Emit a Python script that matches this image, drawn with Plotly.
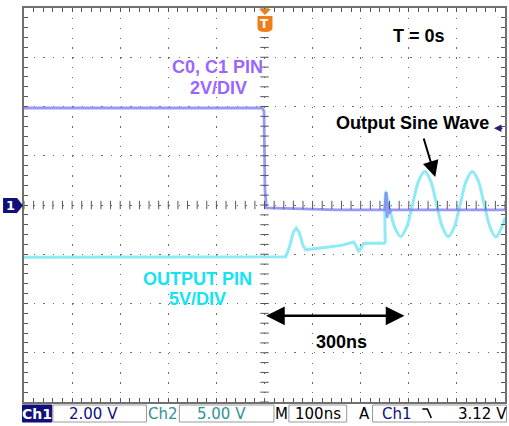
import plotly.graph_objects as go

# ---------------- data (time in ns, vertical in divisions) ----------------
ch1_t = [-500, -5, -1, 1, 4, 30, 80, 150, 250, 253, 255, 257, 259, 262, 300, 400, 500]
ch1_v = [1.97, 1.97, 1.9, 0.3, -0.06, -0.07, -0.08, -0.1, -0.1, 0.26, -0.26, 0.05, -0.18, -0.1, -0.1, -0.1, -0.1]

ch2_pre_t = [-500, 40, 44, 52, 60, 66, 72, 80, 86, 120, 160, 185, 190, 196, 201, 206, 240, 251]
ch2_pre_v = [-1.06, -1.06, -1.05, -0.85, -0.55, -0.47, -0.55, -0.82, -0.91, -0.87, -0.82, -0.75, -0.82, -0.95, -0.85, -0.78, -0.77, -0.78]

ch2_sine_t = [251, 252, 258, 270.6, 283, 295.4, 308, 320.6, 333, 345.4, 357.5, 370, 382,
              394.4, 407, 419.5, 432, 444.4, 456.5, 469, 481, 493.4, 500]
ch2_sine_v = [-0.78, 0.27, 0.03, -0.45, -0.64, -0.45, 0.02, 0.49, 0.68, 0.49, 0.02, -0.45, -0.64,
              -0.45, 0.02, 0.49, 0.68, 0.49, 0.02, -0.45, -0.65, -0.45, -0.25]

status_labels = ["Ch1", "2.00 V", "Ch2", "5.00 V", "M", "100ns", "A", "Ch1", "3.12 V"]

# ---------------- geometry helpers ----------------
W, H = 509, 426
L, R, T, B = 24, 2, 8, 24
PW, PH = W - L - R, H - T - B


def px(x):
    return (x - L) / PW


def py(y):
    return (H - B - y) / PH


CH1_COL = "rgba(128,128,245,0.8)"
CH2_COL = "rgba(135,234,244,0.95)"
PURPLE_TXT = "#9966ff"
CYAN_TXT = "#14e3f5"
NAVY = "#10107a"
TEAL = "#2f9396"

fig = go.Figure()

fig.add_trace(go.Scatter(x=ch2_pre_t, y=ch2_pre_v, mode="lines",
                         line=dict(color=CH2_COL, width=3), hoverinfo="skip"))
fig.add_trace(go.Scatter(x=ch2_sine_t, y=ch2_sine_v, mode="lines",
                         line=dict(color=CH2_COL, width=3, shape="spline", smoothing=1.0),
                         hoverinfo="skip"))
fig.add_trace(go.Scatter(x=ch1_t, y=ch1_v, mode="lines",
                         line=dict(color=CH1_COL, width=2.8), hoverinfo="skip"))

# centre-cross minor ticks
cx = [i * 20 for i in range(-25, 26)]
cy = [i * 0.2 for i in range(-20, 21)]
fig.add_trace(go.Scatter(x=cx, y=[0] * len(cx), mode="markers",
                         marker=dict(symbol="line-ns", size=6, line=dict(color="#555", width=1)),
                         hoverinfo="skip"))
fig.add_trace(go.Scatter(x=[0] * len(cy), y=cy, mode="markers",
                         marker=dict(symbol="line-ew", size=6, line=dict(color="#555", width=1)),
                         hoverinfo="skip"))

axis_common = dict(showticklabels=False, zeroline=False, showgrid=True,
                   gridcolor="#6a6a6a", gridwidth=1.3,
                   ticks="inside", ticklen=4, tickcolor="#555", tickwidth=1,
                   showline=True, linecolor="#707070", linewidth=2, mirror="allticks",
                   fixedrange=True)
fig.update_xaxes(range=[-500, 500], dtick=100, tick0=0,
                 griddash="1.3px,8.55px",
                 minor=dict(dtick=20, ticks="inside", ticklen=4, tickcolor="#555", showgrid=False),
                 **axis_common)
fig.update_yaxes(range=[-4, 4], dtick=1, tick0=0,
                 griddash="1.3px,8.36px",
                 minor=dict(dtick=0.2, ticks="inside", ticklen=4, tickcolor="#555", showgrid=False),
                 **axis_common)

shapes = []
# channel-1 ground marker
shapes.append(dict(type="path", xref="paper", yref="paper",
                   path=f"M {px(3)},{py(198)} L {px(17)},{py(198)} L {px(23)},{py(205.5)} "
                        f"L {px(17)},{py(213)} L {px(3)},{py(213)} Z",
                   fillcolor=NAVY, line=dict(width=0)))
# trigger position marker
shapes.append(dict(type="path", xref="paper", yref="paper",
                   path=f"M {px(260)},{py(9)} L {px(272)},{py(9)} L {px(266)},{py(15)} Z",
                   fillcolor="#f07d1a", line=dict(width=0)))
shapes.append(dict(type="path", xref="paper", yref="paper",
                   path=f"M {px(258.5)},{py(16)} L {px(273.5)},{py(16)} L {px(273.5)},{py(28)} "
                        f"Q {px(273.5)},{py(32)} {px(266)},{py(32)} Q {px(258.5)},{py(32)} {px(258.5)},{py(28)} Z",
                   fillcolor="#f07d1a", line=dict(width=0)))


# status bar boxes
def box(x0, x1, fill, line="#9a9a9a"):
    shapes.append(dict(type="rect", xref="paper", yref="paper",
                       x0=px(x0), x1=px(x1), y0=py(405), y1=py(422),
                       fillcolor=fill, line=dict(color=line, width=1)))


box(22.5, 52, NAVY, NAVY)
box(53, 147, "white")
box(180, 275, "white")
box(290, 348, "white")
box(374, 508.5, "white")
# falling edge symbol
shapes.append(dict(type="path", xref="paper", yref="paper",
                   path=f"M {px(424)},{py(409)} L {px(429)},{py(409)} L {px(433)},{py(418)}",
                   line=dict(color="black", width=1.6)))

annotations = []
TXT = dict(family="Liberation Sans, Arial, sans-serif", size=18)


def txt(t, v, s, color="black", **kw):
    annotations.append(dict(x=t, y=v, xref="x", yref="y", text=f"<b>{s}</b>", showarrow=False,
                            xanchor="center", yanchor="middle",
                            font=dict(TXT, color=color), **kw))


txt(322, 3.43, "T = 0s")
txt(-98, 2.80, "C0, C1 PIN", PURPLE_TXT)
txt(-95, 2.38, "2V/DIV", PURPLE_TXT)
txt(307, 1.66, "Output Sine Wave")
txt(-140, -1.50, "OUTPUT PIN", CYAN_TXT)
txt(-139, -1.91, "5V/DIV", CYAN_TXT)
txt(161, -2.78, "300ns")

# arrow to sine wave
annotations.append(dict(x=355, y=0.57, xref="x", yref="y", ax=-12, ay=-40, text="",
                        showarrow=True, arrowhead=2, arrowsize=1.6, arrowwidth=2,
                        arrowcolor="black", standoff=0))
# 300 ns double arrow
annotations.append(dict(x=291, y=-2.25, xref="x", yref="y", ax=0, ay=-2.25, axref="x", ayref="y",
                        text="", showarrow=True, arrowhead=2, arrowside="end+start",
                        arrowsize=1.5, arrowwidth=2.5, arrowcolor="black",
                        standoff=0, startstandoff=0, startarrowhead=2, startarrowsize=1.5))
# trigger level marker
annotations.append(dict(x=477, y=1.56, xref="x", yref="y", ax=10, ay=0, text="",
                        showarrow=True, arrowhead=2, arrowsize=1, arrowwidth=1.5,
                        arrowcolor="#1a237e", standoff=0))


def ptxt(xc, yc, s, color, bold=False, size=15, family="DejaVu Sans, sans-serif"):
    annotations.append(dict(x=px(xc), y=py(yc), xref="paper", yref="paper",
                            xanchor="center", yanchor="middle",
                            text=f"<b>{s}</b>" if bold else s, showarrow=False,
                            font=dict(family=family, size=size, color=color)))


# marker texts
ptxt(10.5, 205.5, "1", "white", bold=True, size=13)
ptxt(266, 24, "T", "white", bold=True, size=12)

SB = 413.5
ptxt(37, SB, status_labels[0], "white", bold=True, size=14)
ptxt(94, SB, status_labels[1], NAVY)
ptxt(164, SB, status_labels[2], TEAL)
ptxt(222, SB, status_labels[3], TEAL)
ptxt(283, SB, status_labels[4], "black")
ptxt(319, SB, status_labels[5], "black")
ptxt(366, SB, status_labels[6], "black")
ptxt(399, SB, status_labels[7], NAVY)
ptxt(484, SB, status_labels[8], "black")

fig.update_layout(width=W, height=H, margin=dict(l=L, r=R, t=T, b=B, pad=0),
                  paper_bgcolor="white", plot_bgcolor="white", showlegend=False,
                  shapes=shapes, annotations=annotations)

fig.write_html("out.html", config={"displayModeBar": False},
               post_script="document.body.style.margin='0';document.body.style.padding='0';"
                           "document.body.style.overflow='hidden';")
